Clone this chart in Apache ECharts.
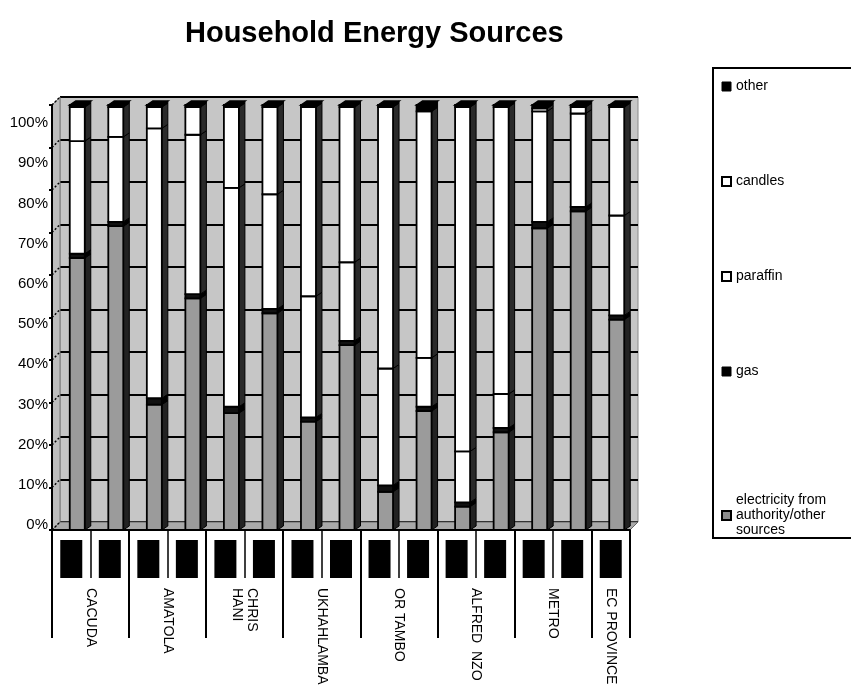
<!DOCTYPE html>
<html>
<head>
<meta charset="utf-8">
<script src="https://cdn.jsdelivr.net/npm/echarts@6/dist/echarts.min.js"></script>
<style>
  html, body { margin: 0; padding: 0; background: #fff; }
  #chart { width: 851px; height: 690px; }
</style>
</head>
<body>
<div id="chart"></div>
<script>
// District groups along the category axis and how many columns each one holds
const districts = ['CACUDA', 'AMATOLA', 'CHRIS\nHANI', 'UKHAHLAMBA', 'OR TAMBO', 'ALFRED  NZO', 'METRO', 'EC PROVINCE'];
const columnsPerDistrict = [2, 2, 2, 2, 2, 2, 2, 1];

// Share of households (%) per column, listed bottom to top of each stack
const electricity = [64, 71.5, 29.5, 54.5, 27.5, 51, 25.5, 43.5, 9, 28, 5.5, 23, 71, 75, 49.5];
const gas         = [1, 1, 1.5, 1, 1.5, 1, 1, 1, 1.5, 1, 1, 1, 1.5, 1, 1];
const paraffin    = [26.5, 20, 63.5, 37.5, 51.5, 27, 28.5, 18.5, 27.5, 11.5, 12, 8, 26, 22, 23.5];
const candles     = [8, 7, 5, 6.5, 19, 20.5, 44.5, 36.5, 61.5, 58, 81, 67.5, 0.7, 1.5, 25.5];
const other       = [0.5, 0.5, 0.5, 0.5, 0.5, 0.5, 0.5, 0.5, 0.5, 1.5, 0.5, 0.5, 0.8, 0.5, 0.5];

// Value axis ticks (percent)
const valueTicks = [0, 10, 20, 30, 40, 50, 60, 70, 80, 90, 100];

const FONT = "'Liberation Sans', Arial, Helvetica, sans-serif";

// One entry per column
const columns = [];
districts.forEach((d, gi) => {
  for (let k = 0; k < columnsPerDistrict[gi]; k++) columns.push(d.replace('\n', ' ') + ' ' + (k + 1));
});
const N = columns.length;

// Half-column positions for the district labels and the group dividers
const halfSlots = new Array(2 * N + 1).fill('');
const groupEdges = new Set();
let start = 0;
districts.forEach((d, gi) => {
  const c = columnsPerDistrict[gi];
  const centre = start + (c - 1) / 2;
  halfSlots[Math.round(2 * centre + 1)] = d;
  groupEdges.add(2 * start);
  start += c;
});
groupEdges.add(2 * start);

// Stack layers, bottom first
const layers = [
  { name: 'electricity from\nauthority/other\nsources', values: electricity, front: '#9b9b9b', side: '#222' },
  { name: 'gas', values: gas, front: '#111', side: '#000' },
  { name: 'paraffin', values: paraffin, front: '#ffffff', side: '#2a2a2a' },
  { name: 'candles', values: candles, front: '#ffffff', side: '#2a2a2a' },
  { name: 'other', values: other, front: '#000', side: '#000' }
];

// Cumulative bases for the stacked columns
const base = new Array(N).fill(0);
const layerData = layers.map(layer => {
  const rows = layer.values.map((v, i) => [i, base[i], base[i] + v]);
  layer.values.forEach((v, i) => { base[i] += v; });
  return rows;
});

// Depth of the 3D look (px)
const DEPTH_X = 8, DEPTH_Y = 8;
const BAR_W = 15, BAR_SHIFT = 6, SIDE_X = 6, SIDE_Y = 4;

function columnRenderer(layer, isTop) {
  return function (params, api) {
    const i = api.value(0), lo = api.value(1), hi = api.value(2);
    const pLo = api.coord([i, lo]);
    const pHi = api.coord([i, hi]);
    const x0 = pLo[0] + BAR_SHIFT - BAR_W / 2;
    const x1 = x0 + BAR_W;
    const yTop = pHi[1], yBot = pLo[1];
    const children = [
      {
        type: 'polygon',
        shape: { points: [[x1, yTop], [x1 + SIDE_X, yTop - SIDE_Y], [x1 + SIDE_X, yBot - SIDE_Y], [x1, yBot]] },
        style: { fill: layer.side, stroke: '#000', lineWidth: 1 }
      },
      {
        type: 'rect',
        shape: { x: x0, y: yTop, width: BAR_W, height: yBot - yTop },
        style: { fill: layer.front, stroke: '#000', lineWidth: 1.8 }
      }
    ];
    if (isTop) {
      children.push({
        type: 'polygon',
        shape: { points: [[x0, yTop], [x0 + SIDE_X, yTop - SIDE_Y], [x1 + SIDE_X, yTop - SIDE_Y], [x1, yTop]] },
        style: { fill: '#000', stroke: '#000', lineWidth: 1.5 }
      });
    }
    return { type: 'group', children };
  };
}

// Side wall, floor and the short diagonal tick lines of the 3D frame
function frameRenderer(params, api) {
  const v = api.value(1);
  const band = api.size([1, 0])[0];
  const p = api.coord([0, v]);
  const xl = p[0] - band / 2;
  const children = [];
  if (params.dataIndex === 0) {
    const yB = api.coord([0, 0])[1];
    const yT = api.coord([0, 100])[1];
    const xr = api.coord([N - 1, 0])[0] + band / 2;
    children.push({
      type: 'polygon',
      shape: { points: [[xl, yB], [xl + DEPTH_X, yB - DEPTH_Y], [xl + DEPTH_X, yT - DEPTH_Y], [xl, yT]] },
      style: { fill: '#bdbdbd', stroke: '#777', lineWidth: 1 }
    });
    children.push({
      type: 'polygon',
      shape: { points: [[xl, yB], [xl + DEPTH_X, yB - DEPTH_Y], [xr + DEPTH_X, yB - DEPTH_Y], [xr, yB]] },
      style: { fill: '#a9a9a9', stroke: '#666', lineWidth: 1 }
    });
  }
  children.push({
    type: 'line',
    shape: { x1: xl, y1: p[1], x2: xl + DEPTH_X, y2: p[1] - DEPTH_Y },
    style: { stroke: '#000', lineWidth: 1.5, lineDash: [2, 2] }
  });
  return { type: 'group', children };
}

const chart = echarts.init(document.getElementById('chart'), null, { renderer: 'canvas' });

const series = [
  {
    type: 'custom',
    name: 'frame',
    xAxisIndex: 0, yAxisIndex: 0,
    silent: true, z: 1,
    renderItem: frameRenderer,
    encode: { x: 0, y: 1 },
    data: valueTicks.map(v => [0, v])
  }
].concat(layers.map((layer, li) => ({
  type: 'custom',
  name: layer.name,
  xAxisIndex: 0, yAxisIndex: 0,
  z: 3,
  itemStyle: { color: layer.front },
  renderItem: columnRenderer(layer, li === layers.length - 1),
  encode: { x: 0, y: [1, 2] },
  data: layerData[li]
})));

const legendText = { fontFamily: FONT, fontSize: 14, color: '#000', lineHeight: 15 };

chart.setOption({
  animation: false,
  backgroundColor: '#ffffff',
  textStyle: { fontFamily: FONT },
  title: {
    text: 'Household Energy Sources',
    left: 180, top: 14,
    textStyle: { fontFamily: FONT, fontSize: 29, fontWeight: 'bold', color: '#000' }
  },
  grid: [
    { left: 52, top: 105, width: 578, height: 425 },                       // front plane (columns)
    { left: 52 + DEPTH_X, top: 105 - DEPTH_Y, width: 578, height: 425,   // back wall
      show: true, backgroundColor: '#c6c6c6', borderColor: '#8a8a8a', borderWidth: 1 },
    { left: 52, top: 123, width: 578, height: 402 }                        // percent labels
  ],
  xAxis: [
    {
      gridIndex: 0, type: 'category', data: columns, boundaryGap: true, z: 5,
      axisLine: { show: true, lineStyle: { color: '#000', width: 2 } },
      axisTick: { show: true, interval: 0, length: 48, lineStyle: { color: '#000', width: 1.5 } },
      axisLabel: {
        interval: 0, margin: 10,
        formatter: () => '{b| }',
        rich: { b: { width: 22, height: 38, backgroundColor: '#000' } }
      },
      splitLine: { show: false }
    },
    {
      gridIndex: 0, type: 'category', data: halfSlots, boundaryGap: false, position: 'bottom', z: 5,
      axisLine: { show: false },
      axisTick: {
        show: true, length: 108, interval: (idx) => groupEdges.has(idx),
        lineStyle: { color: '#000', width: 2 }
      },
      axisLabel: {
        interval: 0, rotate: -90, margin: 58,
        color: '#000', fontFamily: FONT, fontSize: 14, lineHeight: 15
      },
      splitLine: { show: false }
    },
    { gridIndex: 1, type: 'category', data: columns, show: false },
    { gridIndex: 2, type: 'value', show: false }
  ],
  yAxis: [
    {
      gridIndex: 0, type: 'value', min: 0, max: 100, interval: 10, z: 5,
      axisLine: { show: true, lineStyle: { color: '#000', width: 2 } },
      axisTick: { show: true, length: 3, lineStyle: { color: '#000', width: 2 } },
      axisLabel: { show: false },
      splitLine: { show: false }
    },
    {
      gridIndex: 1, type: 'value', min: 0, max: 100, interval: 10,
      axisLine: { show: false }, axisTick: { show: false }, axisLabel: { show: false },
      splitLine: { show: true, lineStyle: { color: '#000', width: 2 } }
    },
    {
      gridIndex: 2, type: 'value', min: 0, max: 100, interval: 10,
      axisLine: { show: false }, axisTick: { show: false }, splitLine: { show: false },
      axisLabel: { formatter: '{value}%', margin: 4, color: '#000', fontFamily: FONT, fontSize: 15 }
    }
  ],
  legend: [
    {
      orient: 'vertical', left: 716, top: 74,
      itemWidth: 9, itemHeight: 9, itemGap: 80, icon: 'rect',
      selectedMode: false,
      textStyle: legendText,
      data: [
        { name: 'other', itemStyle: { color: '#000', borderColor: '#000', borderWidth: 1 } },
        { name: 'candles', itemStyle: { color: '#fff', borderColor: '#000', borderWidth: 2 } },
        { name: 'paraffin', itemStyle: { color: '#fff', borderColor: '#000', borderWidth: 2 } },
        { name: 'gas', itemStyle: { color: '#000', borderColor: '#000', borderWidth: 1 } }
      ]
    },
    {
      orient: 'vertical', left: 716, top: 488,
      itemWidth: 9, itemHeight: 9, icon: 'rect',
      selectedMode: false,
      textStyle: legendText,
      data: [
        { name: layers[0].name, itemStyle: { color: '#8c8c8c', borderColor: '#000', borderWidth: 2 } }
      ]
    }
  ],
  graphic: [
    {
      type: 'rect', left: 712, top: 67, silent: true, z: 0,
      shape: { width: 200, height: 470 },
      style: { fill: 'transparent', stroke: '#000', lineWidth: 2 }
    }
  ],
  series: series
});
</script>
</body>
</html>
